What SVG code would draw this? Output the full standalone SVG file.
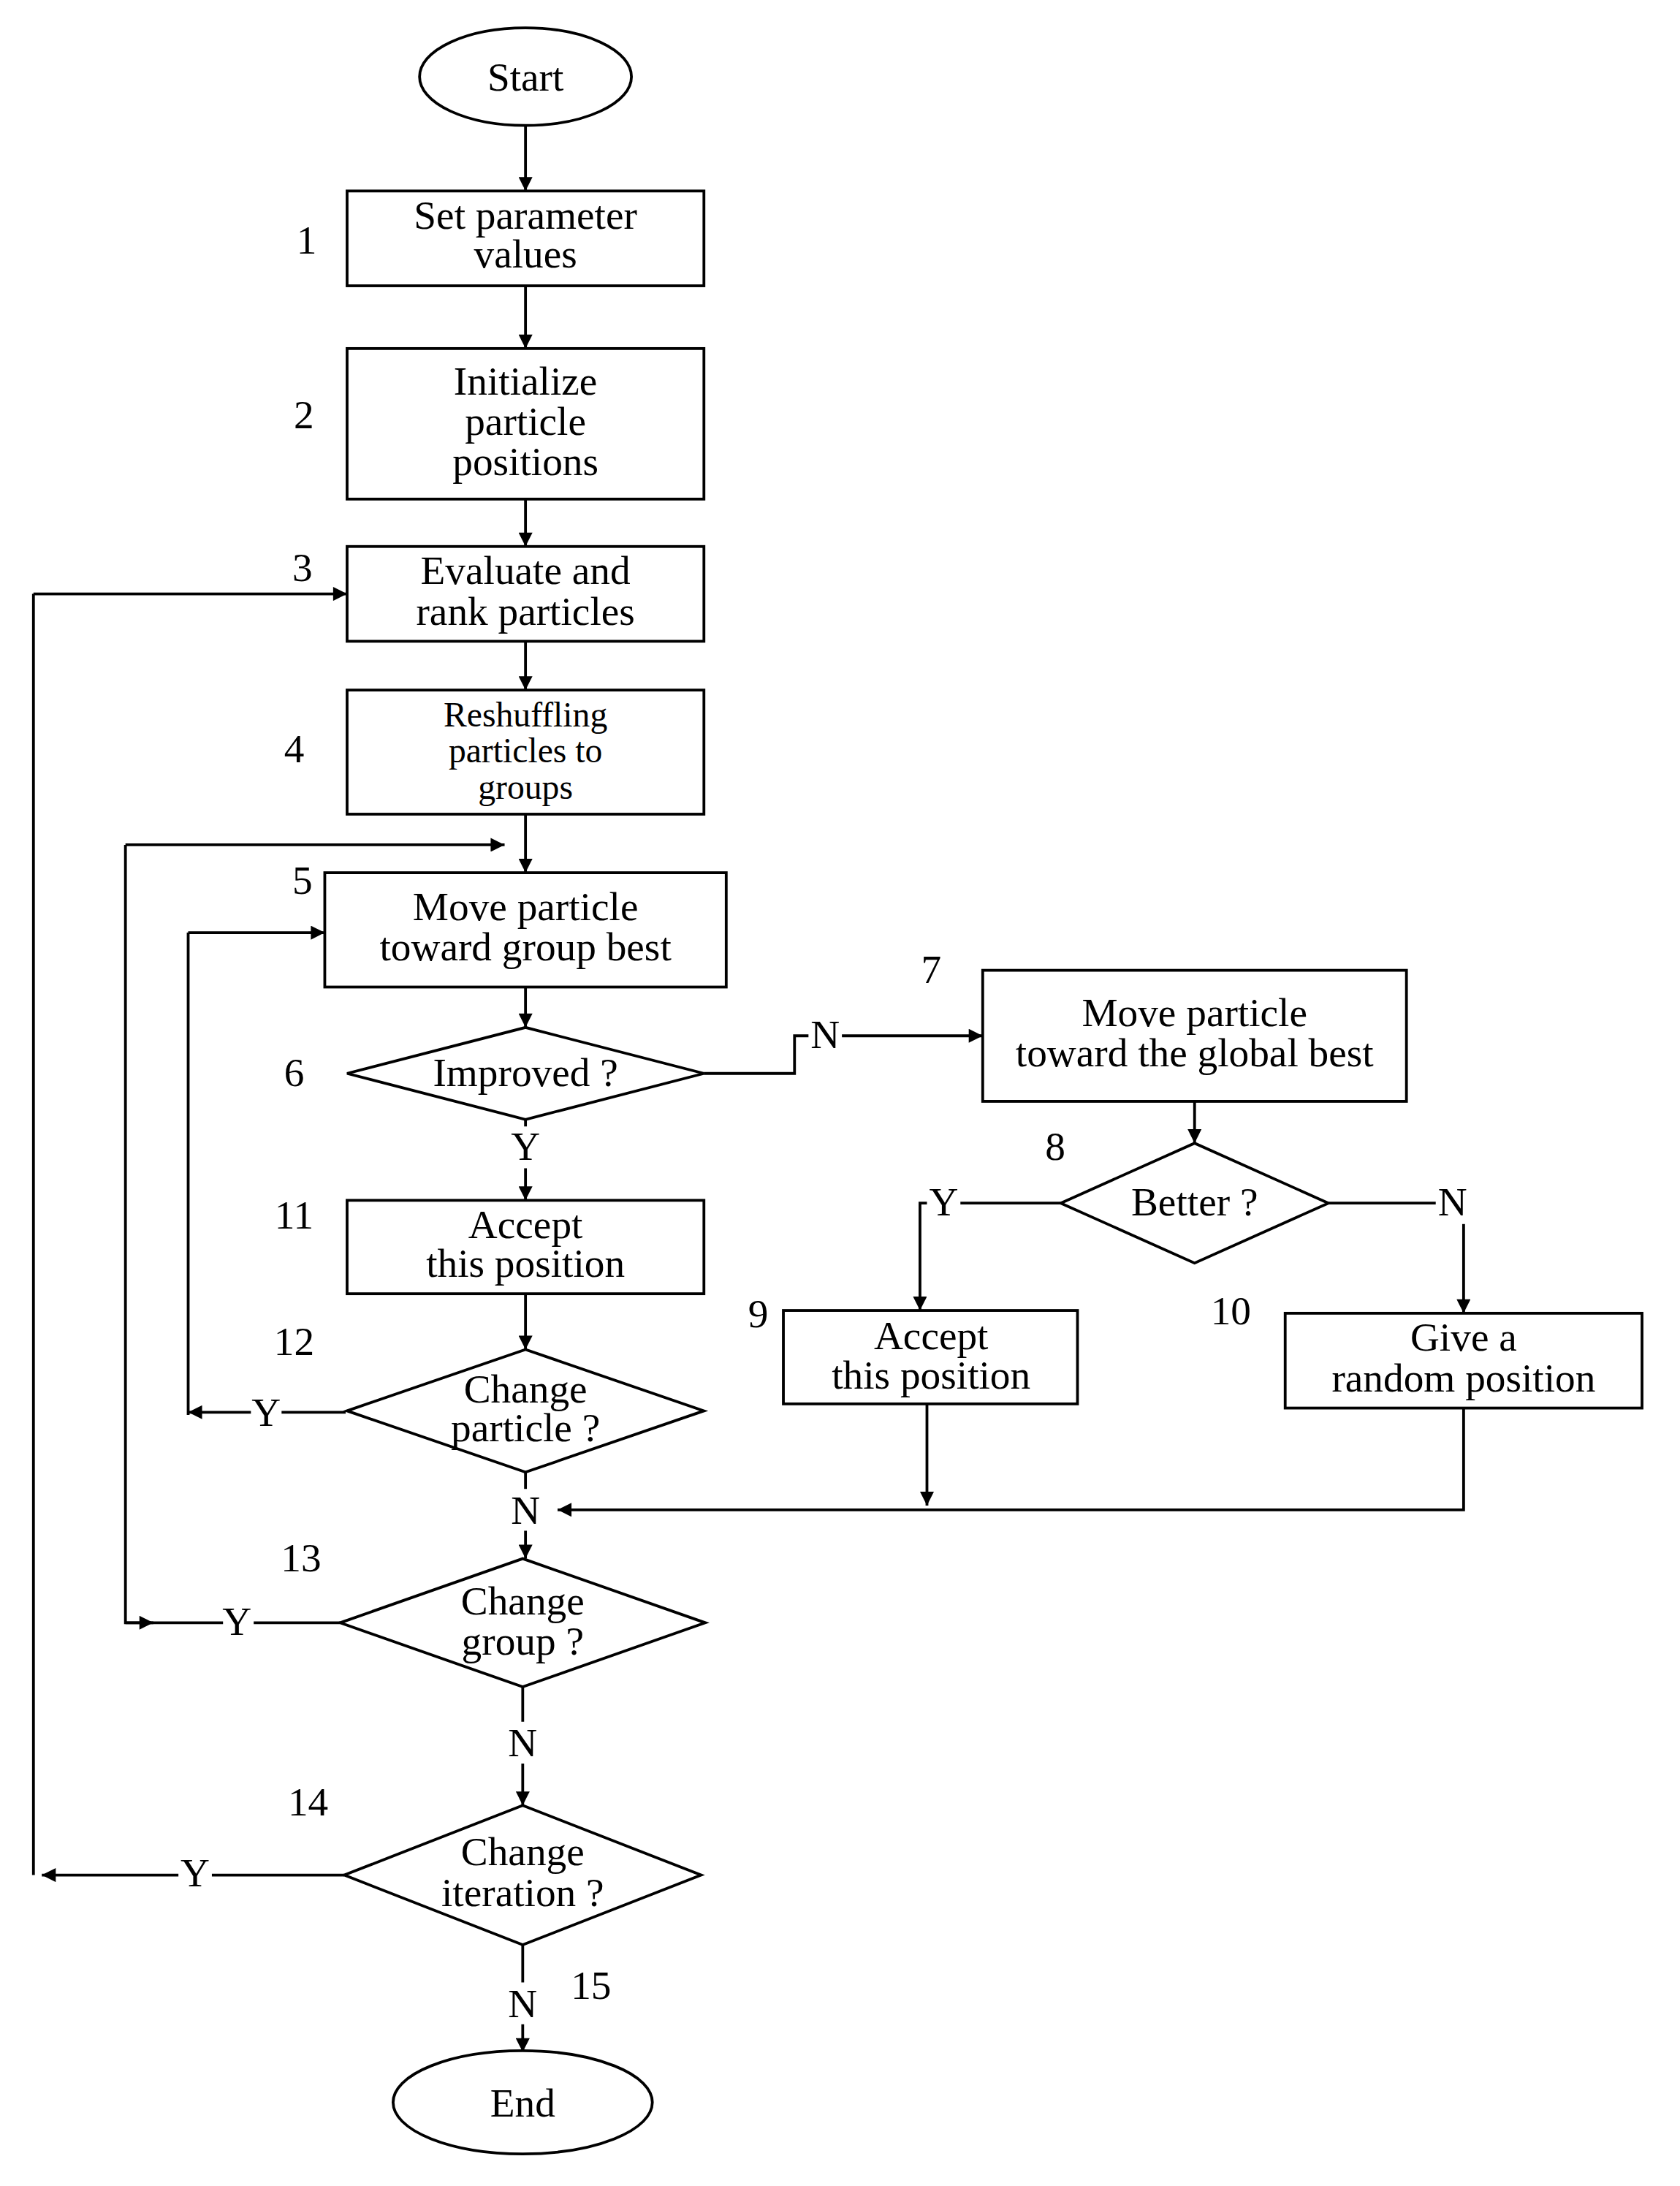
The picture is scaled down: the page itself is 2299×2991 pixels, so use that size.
<svg xmlns="http://www.w3.org/2000/svg" width="2299" height="2991" viewBox="0 0 2299 2991">
<defs>
<marker id="a" viewBox="0 0 10 10" refX="10" refY="5" markerWidth="15" markerHeight="10" markerUnits="userSpaceOnUse" orient="auto"><path d="M0,0 L10,5 L0,10 z" fill="#000"/></marker>
<style>
.s{fill:#fff;stroke:#000;stroke-width:2}
.c{fill:none;stroke:#000;stroke-width:2;marker-end:url(#a)}
.l{fill:none;stroke:#000;stroke-width:2}
text{font-family:"Liberation Serif","Times New Roman",serif;font-size:29px;fill:#000;text-anchor:middle}
</style>
</defs>
<rect width="2299" height="2991" fill="#fff"/>
<g transform="scale(1.9075)">
<g id="connectors">
<path class="c" d="M377,90V137"/>
<path class="c" d="M377,205V250"/>
<path class="c" d="M377,358V392"/>
<path class="c" d="M377,460V495"/>
<path class="c" d="M377,584V626"/>
<path class="c" d="M377,708V737"/>
<path class="l" d="M244,1164H90V606"/><path class="c" d="M90,1164H110"/>
<path class="c" d="M90,606H362"/>
<path class="c" d="M248,1013H135"/>
<path class="l" d="M135,1015V669"/><path class="c" d="M135,669H233"/>
<path class="c" d="M247,1345H30"/>
<path class="l" d="M24,1345V426"/><path class="c" d="M24,426H249"/>
<path class="c" d="M505,770H570V743H705"/>
<path class="c" d="M377,803V861"/>
<path class="c" d="M857,790V820"/>
<path class="c" d="M761,863H660V940"/>
<path class="c" d="M953,863H1050V942"/>
<path class="c" d="M377,928V968"/>
<path class="c" d="M665,1007V1080"/>
<path class="c" d="M1050,1010V1083H400"/>
<path class="c" d="M377,1056V1118"/>
<path class="c" d="M375,1210V1295"/>
<path class="c" d="M375,1395V1472"/>
<rect x="160" y="1148" width="22" height="30" fill="#fff"/><text x="170" y="1173">Y</text>
<rect x="180" y="998" width="22" height="30" fill="#fff"/><text x="191" y="1023">Y</text>
<rect x="128" y="1328" width="24" height="30" fill="#fff"/><text x="140" y="1353">Y</text>
<rect x="580" y="728" width="24" height="30" fill="#fff"/><text x="592" y="752">N</text>
<rect x="364" y="808" width="26" height="30" fill="#fff"/><text x="377" y="832">Y</text>
<rect x="665" y="848" width="24" height="30" fill="#fff"/><text x="677" y="872">Y</text>
<rect x="1030" y="848" width="24" height="30" fill="#fff"/><text x="1042" y="872">N</text>
<rect x="364" y="1068" width="26" height="30" fill="#fff"/><text x="377" y="1093">N</text>
<rect x="362" y="1235" width="26" height="30" fill="#fff"/><text x="375" y="1260">N</text>
<rect x="362" y="1422" width="26" height="30" fill="#fff"/><text x="375" y="1447">N</text>
</g>
<g id="start"><ellipse class="s" cx="377" cy="55" rx="76" ry="35"/><text x="377" y="65">Start</text></g>
<g id="n1"><rect class="s" x="249" y="137" width="256" height="68"/><text x="377" y="164">Set parameter</text><text x="377" y="192">values</text><text x="220" y="182">1</text></g>
<g id="n2"><rect class="s" x="249" y="250" width="256" height="108"/><text x="377" y="283">Initialize</text><text x="377" y="312">particle</text><text x="377" y="341">positions</text><text x="218" y="307">2</text></g>
<g id="n3"><rect class="s" x="249" y="392" width="256" height="68"/><text x="377" y="419">Evaluate and</text><text x="377" y="448">rank particles</text><text x="217" y="417">3</text></g>
<g id="n4"><rect class="s" x="249" y="495" width="256" height="89"/><text x="377" y="521" style="font-size:25px">Reshuffling</text><text x="377" y="547" style="font-size:25px">particles to</text><text x="377" y="573" style="font-size:25px">groups</text><text x="211" y="547">4</text></g>
<g id="n5"><rect class="s" x="233" y="626" width="288" height="82"/><text x="377" y="660">Move particle</text><text x="377" y="689">toward group best</text><text x="217" y="641">5</text></g>
<g id="n6"><path class="s" d="M249,770L377,737L505,770L377,803Z"/><text x="377" y="779">Improved ?</text><text x="211" y="779">6</text></g>
<g id="n7"><rect class="s" x="705" y="696" width="304" height="94"/><text x="857" y="736">Move particle</text><text x="857" y="765">toward the global best</text><text x="668" y="705">7</text></g>
<g id="n8"><path class="s" d="M761,863L857,820L953,863L857,906Z"/><text x="857" y="872">Better ?</text><text x="757" y="832">8</text></g>
<g id="n9"><rect class="s" x="562" y="940" width="211" height="67"/><text x="668" y="968">Accept</text><text x="668" y="996">this position</text><text x="544" y="952">9</text></g>
<g id="n10"><rect class="s" x="922" y="942" width="256" height="68"/><text x="1050" y="969">Give a</text><text x="1050" y="998">random  position</text><text x="883" y="950">10</text></g>
<g id="n11"><rect class="s" x="249" y="861" width="256" height="67"/><text x="377" y="888">Accept</text><text x="377" y="916">this position</text><text x="211" y="881">11</text></g>
<g id="n12"><path class="s" d="M249,1012L377,968L505,1012L377,1056Z"/><text x="377" y="1006">Change</text><text x="377" y="1034">particle ?</text><text x="211" y="972">12</text></g>
<g id="n13"><path class="s" d="M244,1164L375,1118L506,1164L375,1210Z"/><text x="375" y="1158">Change</text><text x="375" y="1187">group ?</text><text x="216" y="1127">13</text></g>
<g id="n14"><path class="s" d="M247,1345L375,1295L503,1345L375,1395Z"/><text x="375" y="1338">Change</text><text x="375" y="1367">iteration ?</text><text x="221" y="1302">14</text></g>
<g id="end"><ellipse class="s" cx="375" cy="1508" rx="93" ry="37"/><text x="375" y="1518">End</text><text x="424" y="1434">15</text></g>
</g>
</svg>
